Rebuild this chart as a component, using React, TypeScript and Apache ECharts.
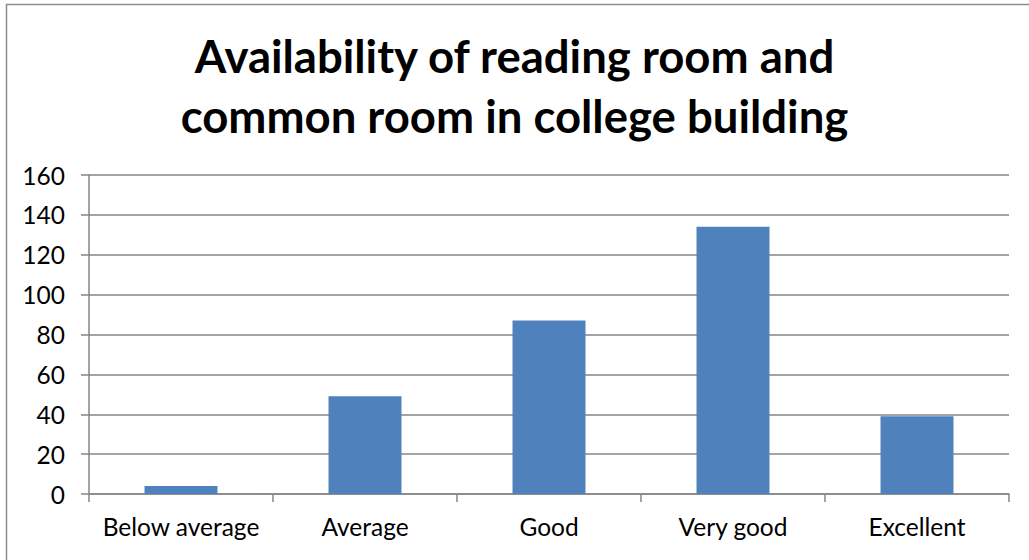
import React, { useEffect, useRef } from "react";
import * as echarts from "echarts";

const categories = ["Below average", "Average", "Good", "Very good", "Excellent"];
const values = [4, 49, 87, 134, 39];
const titleText = "Availability of reading room and\ncommon room in college building";

export default function App() {
  const ref = useRef<HTMLDivElement>(null);
  useEffect(() => {
    if (!ref.current) return;
    const chart = echarts.init(ref.current, undefined, { renderer: "svg" });
    const gray = "#868686";
    chart.setOption({
      animation: false,
      backgroundColor: "#ffffff",
      textStyle: { fontFamily: "Lato" },
      title: {
        text: titleText,
        left: "center",
        top: 20,
        textStyle: {
          fontFamily: "Lato",
          fontWeight: "bold",
          fontSize: 45.5,
          lineHeight: 60,
          color: "#000000",
        },
      },
      graphic: [
        {
          type: "rect",
          shape: { x: 6.5, y: 4.5, width: 1100, height: 700 },
          style: { fill: "none", stroke: "#8c8c8c", lineWidth: 1.5 },
          silent: true,
        },
      ],
      grid: { left: 89, right: 20, top: 175, bottom: 66 },
      xAxis: {
        type: "category",
        data: categories,
        axisLine: { show: true, lineStyle: { color: gray, width: 1.5 } },
        axisTick: { show: true, interval: 0, length: 8, alignWithLabel: false, lineStyle: { color: gray, width: 1.5 } },
        axisLabel: { color: "#000", fontSize: 24.5, margin: 20, interval: 0, hideOverlap: false, fontFamily: "Lato" },
      },
      yAxis: {
        type: "value",
        min: 0,
        max: 160,
        interval: 20,
        axisLine: { show: true, lineStyle: { color: gray, width: 1.5 } },
        axisTick: { show: true, length: 8, lineStyle: { color: gray, width: 1.5 } },
        splitLine: { show: true, lineStyle: { color: gray, width: 1.5 } },
        axisLabel: { color: "#000", fontSize: 24.5, margin: 24, fontFamily: "Lato" },
      },
      series: [
        {
          type: "bar",
          data: values,
          barWidth: 73,
          itemStyle: { color: "#4F81BD" },
        },
      ],
    });
    return () => chart.dispose();
  }, []);
  return (
    <div
      ref={ref}
      style={{ position: "fixed", left: 0, top: 0, width: 1029, height: 560 }}
    />
  );
}
